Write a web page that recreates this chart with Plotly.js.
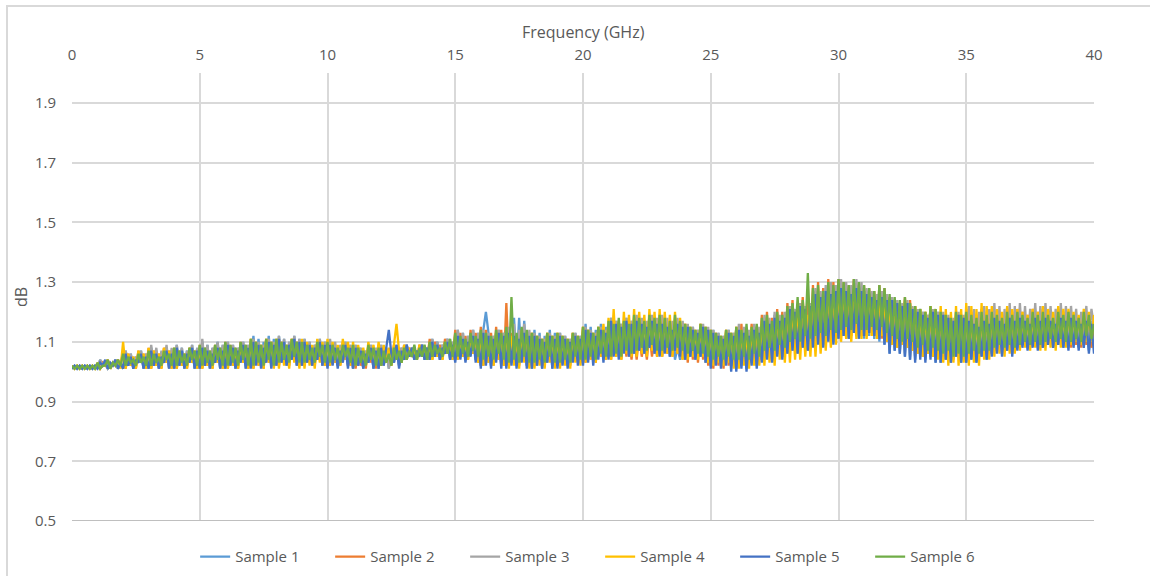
<!DOCTYPE html>
<html>
<head>
<meta charset="utf-8">
<script src="https://cdn.plot.ly/plotly-3.0.1.min.js"></script>
<style>
  html, body { margin: 0; padding: 0; background: #ffffff; }
  #wrap { position: relative; width: 1150px; height: 576px; }
  #chart { width: 1150px; height: 576px; }
  #frame { position: absolute; left: 6px; top: 5px; width: 1144px; height: 571px;
           border-left: 2px solid #d9d9d9; border-top: 2px solid #d9d9d9;
           pointer-events: none; box-sizing: border-box; }
</style>
</head>
<body>
<div id="wrap"><div id="chart"></div><div id="frame"></div></div>
<script>
// Frequency grid (GHz): start and step of the sampled points
const freqStart = 0;
const freqStep = 0.1;

const sampleNames = ["Sample 1", "Sample 2", "Sample 3", "Sample 4", "Sample 5", "Sample 6"];
const sampleColors = ["#5B9BD5", "#ED7D31", "#A5A5A5", "#FFC000", "#4472C4", "#70AD47"];

const xTitle = "Frequency (GHz)";
const yTitle = "dB";
const xTickVals = [0, 5, 10, 15, 20, 25, 30, 35, 40];
const yTickVals = [0.5, 0.7, 0.9, 1.1, 1.3, 1.5, 1.7, 1.9];

// dB values, 0 to 40 GHz every 0.1 GHz (one row = 2 GHz)
const sample1 = [
1.01,1.02,1.01,1.02,1.01,1.02,1.01,1.02,1.01,1.02, 1.01,1.04,1.02,1.03,1.01,1.02,1.02,1.04,1.01,1.03,
1.01,1.07,1.02,1.06,1.01,1.05,1.03,1.07,1.01,1.06, 1.01,1.08,1.02,1.07,1.01,1.06,1.03,1.08,1.01,1.07,
1.01,1.09,1.02,1.08,1.01,1.07,1.03,1.09,1.01,1.08, 1.01,1.10,1.02,1.09,1.01,1.08,1.03,1.10,1.01,1.09,
1.01,1.10,1.02,1.09,1.01,1.08,1.03,1.10,1.02,1.09, 1.02,1.12,1.03,1.11,1.02,1.10,1.04,1.12,1.02,1.11,
1.02,1.12,1.03,1.11,1.02,1.10,1.04,1.12,1.02,1.11, 1.02,1.11,1.03,1.10,1.02,1.09,1.04,1.11,1.02,1.10,
1.02,1.10,1.03,1.09,1.02,1.08,1.04,1.10,1.02,1.09, 1.01,1.09,1.02,1.08,1.01,1.07,1.03,1.09,1.01,1.08,
1.01,1.09,1.02,1.08,1.01,1.07,1.03,1.09,1.02,1.08, 1.04,1.09,1.05,1.08,1.04,1.07,1.06,1.09,1.04,1.08,
1.04,1.11,1.05,1.10,1.04,1.09,1.06,1.11,1.04,1.10, 1.04,1.14,1.05,1.13,1.04,1.12,1.06,1.14,1.04,1.13,
1.02,1.14,1.20,1.13,1.02,1.12,1.04,1.14,1.02,1.13, 1.02,1.14,1.03,1.18,1.02,1.18,1.04,1.17,1.02,1.13,
1.01,1.14,1.02,1.13,1.01,1.12,1.03,1.14,1.01,1.13, 1.02,1.13,1.03,1.12,1.02,1.11,1.04,1.13,1.03,1.12,
1.04,1.16,1.05,1.15,1.04,1.14,1.06,1.16,1.05,1.15, 1.06,1.18,1.07,1.17,1.06,1.16,1.08,1.18,1.06,1.17,
1.06,1.18,1.07,1.17,1.06,1.16,1.08,1.18,1.06,1.17, 1.06,1.17,1.07,1.16,1.05,1.15,1.04,1.08,1.04,1.07,
1.04,1.10,1.05,1.15,1.04,1.14,1.05,1.15,1.03,1.14, 1.02,1.14,1.03,1.13,1.02,1.12,1.03,1.14,1.02,1.13,
1.01,1.15,1.02,1.14,1.01,1.13,1.03,1.15,1.02,1.14, 1.04,1.18,1.05,1.17,1.04,1.19,1.06,1.18,1.05,1.19,
1.07,1.22,1.08,1.21,1.07,1.23,1.09,1.22,1.08,1.23, 1.09,1.27,1.10,1.26,1.09,1.28,1.11,1.29,1.10,1.28,
1.11,1.29,1.12,1.28,1.11,1.27,1.13,1.29,1.11,1.28, 1.11,1.27,1.12,1.26,1.11,1.25,1.10,1.26,1.09,1.25,
1.06,1.24,1.07,1.23,1.06,1.22,1.05,1.23,1.04,1.21, 1.04,1.21,1.05,1.20,1.04,1.19,1.05,1.21,1.03,1.20,
1.03,1.19,1.04,1.18,1.03,1.17,1.05,1.19,1.03,1.18, 1.03,1.19,1.04,1.18,1.03,1.17,1.05,1.19,1.04,1.18,
1.06,1.20,1.07,1.19,1.06,1.18,1.07,1.20,1.06,1.19, 1.08,1.19,1.09,1.18,1.08,1.17,1.09,1.19,1.08,1.18,
1.08,1.19,1.09,1.18,1.08,1.17,1.09,1.19,1.08,1.18, 1.08,1.19,1.09,1.18,1.08,1.17,1.09,1.18,1.07,1.17,
1.13];
const sample2 = [
1.02,1.01,1.02,1.01,1.02,1.01,1.02,1.01,1.02,1.01, 1.02,1.01,1.03,1.02,1.04,1.01,1.03,1.02,1.04,1.02,
1.07,1.01,1.06,1.02,1.05,1.01,1.07,1.03,1.06,1.01, 1.08,1.01,1.07,1.02,1.06,1.01,1.08,1.03,1.07,1.01,
1.08,1.01,1.07,1.02,1.06,1.01,1.08,1.03,1.07,1.01, 1.09,1.01,1.08,1.02,1.07,1.01,1.09,1.03,1.08,1.01,
1.10,1.01,1.09,1.02,1.08,1.01,1.10,1.03,1.09,1.01, 1.11,1.01,1.10,1.02,1.09,1.01,1.11,1.03,1.10,1.02,
1.11,1.02,1.10,1.03,1.09,1.02,1.11,1.04,1.10,1.02, 1.10,1.02,1.09,1.03,1.08,1.02,1.10,1.04,1.09,1.02,
1.10,1.02,1.09,1.03,1.08,1.02,1.10,1.04,1.09,1.02, 1.09,1.01,1.08,1.02,1.07,1.01,1.09,1.03,1.08,1.01,
1.09,1.02,1.08,1.03,1.07,1.02,1.09,1.04,1.08,1.03, 1.09,1.04,1.08,1.05,1.07,1.04,1.09,1.06,1.08,1.04,
1.11,1.04,1.10,1.05,1.09,1.04,1.11,1.06,1.10,1.04, 1.14,1.04,1.13,1.05,1.12,1.04,1.14,1.06,1.13,1.03,
1.15,1.02,1.14,1.03,1.13,1.02,1.15,1.04,1.14,1.02, 1.23,1.02,1.13,1.03,1.12,1.02,1.14,1.04,1.13,1.02,
1.13,1.02,1.12,1.03,1.11,1.02,1.13,1.04,1.12,1.02, 1.13,1.02,1.12,1.03,1.11,1.02,1.13,1.04,1.12,1.03,
1.15,1.03,1.14,1.04,1.13,1.03,1.15,1.05,1.14,1.04, 1.16,1.04,1.15,1.05,1.14,1.04,1.13,1.05,1.12,1.04,
1.13,1.04,1.12,1.05,1.11,1.04,1.13,1.05,1.12,1.05, 1.14,1.05,1.15,1.06,1.13,1.05,1.15,1.06,1.14,1.04,
1.16,1.03,1.15,1.04,1.14,1.03,1.16,1.04,1.15,1.02, 1.14,1.01,1.13,1.02,1.12,1.01,1.14,1.02,1.13,1.02,
1.15,1.02,1.16,1.03,1.14,1.03,1.16,1.04,1.15,1.04, 1.19,1.05,1.20,1.06,1.18,1.05,1.21,1.06,1.20,1.06,
1.23,1.07,1.24,1.08,1.22,1.08,1.25,1.09,1.24,1.09, 1.29,1.10,1.30,1.11,1.28,1.10,1.31,1.12,1.30,1.11,
1.31,1.12,1.30,1.13,1.29,1.12,1.31,1.14,1.30,1.12, 1.29,1.12,1.28,1.13,1.27,1.12,1.29,1.11,1.28,1.10,
1.25,1.09,1.24,1.08,1.23,1.09,1.25,1.08,1.24,1.07, 1.22,1.06,1.21,1.05,1.20,1.06,1.22,1.05,1.21,1.05,
1.20,1.04,1.19,1.05,1.18,1.04,1.20,1.05,1.19,1.04, 1.21,1.05,1.20,1.06,1.19,1.05,1.21,1.06,1.20,1.06,
1.21,1.07,1.20,1.08,1.19,1.07,1.21,1.08,1.20,1.07, 1.21,1.08,1.20,1.09,1.19,1.08,1.21,1.09,1.20,1.08,
1.21,1.09,1.20,1.10,1.19,1.09,1.21,1.10,1.20,1.09, 1.20,1.08,1.19,1.09,1.18,1.08,1.20,1.09,1.19,1.08,
1.16];
const sample3 = [
1.01,1.02,1.01,1.02,1.01,1.02,1.01,1.02,1.01,1.02, 1.01,1.04,1.02,1.03,1.01,1.02,1.02,1.04,1.01,1.03,
1.01,1.07,1.02,1.06,1.01,1.05,1.03,1.07,1.01,1.06, 1.01,1.09,1.02,1.08,1.01,1.07,1.03,1.09,1.01,1.08,
1.01,1.09,1.02,1.08,1.01,1.07,1.03,1.09,1.01,1.08, 1.01,1.11,1.02,1.09,1.01,1.08,1.03,1.10,1.01,1.09,
1.01,1.10,1.02,1.09,1.01,1.08,1.03,1.10,1.01,1.09, 1.02,1.11,1.03,1.10,1.02,1.09,1.04,1.11,1.02,1.10,
1.02,1.12,1.03,1.11,1.02,1.10,1.04,1.12,1.02,1.11, 1.02,1.11,1.03,1.10,1.02,1.09,1.04,1.11,1.02,1.10,
1.02,1.11,1.03,1.10,1.02,1.09,1.04,1.10,1.02,1.09, 1.01,1.09,1.02,1.08,1.01,1.07,1.03,1.09,1.01,1.08,
1.01,1.09,1.02,1.08,1.01,1.07,1.03,1.09,1.02,1.08, 1.04,1.09,1.05,1.08,1.04,1.07,1.06,1.09,1.04,1.08,
1.04,1.11,1.05,1.10,1.04,1.09,1.06,1.11,1.04,1.10, 1.04,1.14,1.05,1.13,1.04,1.12,1.06,1.14,1.04,1.13,
1.02,1.14,1.03,1.13,1.02,1.12,1.04,1.14,1.02,1.13, 1.02,1.15,1.03,1.16,1.02,1.14,1.04,1.16,1.02,1.14,
1.02,1.13,1.03,1.12,1.02,1.11,1.04,1.13,1.02,1.12, 1.02,1.13,1.03,1.12,1.02,1.11,1.04,1.13,1.03,1.12,
1.04,1.15,1.05,1.14,1.04,1.13,1.06,1.15,1.04,1.14, 1.05,1.18,1.06,1.17,1.05,1.16,1.07,1.18,1.05,1.17,
1.06,1.19,1.07,1.18,1.06,1.17,1.08,1.19,1.06,1.18, 1.06,1.19,1.07,1.18,1.06,1.17,1.07,1.18,1.05,1.17,
1.04,1.16,1.05,1.15,1.04,1.14,1.05,1.16,1.03,1.15, 1.02,1.14,1.03,1.13,1.02,1.12,1.03,1.14,1.02,1.13,
1.01,1.16,1.02,1.15,1.01,1.14,1.03,1.16,1.02,1.15, 1.04,1.19,1.05,1.18,1.04,1.20,1.06,1.19,1.05,1.20,
1.06,1.22,1.07,1.21,1.06,1.23,1.08,1.22,1.07,1.23, 1.09,1.28,1.10,1.27,1.09,1.29,1.11,1.30,1.10,1.29,
1.12,1.31,1.13,1.30,1.12,1.29,1.14,1.31,1.12,1.30, 1.12,1.28,1.13,1.27,1.12,1.26,1.11,1.27,1.10,1.26,
1.07,1.25,1.08,1.24,1.07,1.23,1.06,1.24,1.05,1.22, 1.05,1.21,1.06,1.20,1.05,1.19,1.06,1.21,1.04,1.20,
1.03,1.20,1.04,1.19,1.03,1.18,1.05,1.20,1.04,1.19, 1.04,1.22,1.05,1.21,1.04,1.20,1.06,1.22,1.05,1.21,
1.06,1.23,1.07,1.22,1.06,1.21,1.08,1.23,1.06,1.22, 1.08,1.23,1.09,1.22,1.08,1.21,1.09,1.23,1.08,1.22,
1.09,1.23,1.10,1.22,1.09,1.21,1.10,1.23,1.09,1.22, 1.10,1.22,1.11,1.21,1.10,1.20,1.11,1.22,1.10,1.21,
1.15];
const sample4 = [
1.02,1.01,1.02,1.01,1.02,1.01,1.02,1.01,1.02,1.01, 1.03,1.01,1.02,1.02,1.04,1.01,1.03,1.02,1.04,1.01,
1.10,1.01,1.06,1.02,1.05,1.01,1.07,1.03,1.06,1.01, 1.08,1.01,1.07,1.02,1.06,1.01,1.08,1.03,1.07,1.01,
1.08,1.01,1.07,1.02,1.06,1.01,1.08,1.03,1.07,1.01, 1.08,1.01,1.07,1.02,1.06,1.01,1.08,1.03,1.07,1.01,
1.09,1.01,1.08,1.02,1.07,1.01,1.09,1.03,1.08,1.01, 1.11,1.01,1.10,1.02,1.09,1.01,1.11,1.03,1.10,1.01,
1.11,1.01,1.10,1.02,1.09,1.01,1.11,1.03,1.10,1.01, 1.11,1.01,1.10,1.02,1.09,1.01,1.11,1.03,1.10,1.02,
1.11,1.02,1.10,1.03,1.09,1.02,1.11,1.04,1.10,1.02, 1.10,1.02,1.09,1.03,1.08,1.02,1.10,1.04,1.09,1.02,
1.10,1.02,1.09,1.03,1.08,1.02,1.09,1.16,1.07,1.03, 1.09,1.04,1.08,1.05,1.07,1.04,1.09,1.06,1.08,1.04,
1.10,1.04,1.09,1.05,1.08,1.04,1.10,1.06,1.09,1.04, 1.12,1.04,1.11,1.05,1.10,1.04,1.12,1.06,1.11,1.03,
1.13,1.02,1.12,1.03,1.11,1.02,1.13,1.04,1.12,1.02, 1.13,1.01,1.12,1.02,1.11,1.01,1.13,1.03,1.12,1.01,
1.13,1.01,1.12,1.02,1.11,1.01,1.13,1.03,1.12,1.01, 1.13,1.01,1.12,1.02,1.11,1.01,1.13,1.03,1.12,1.02,
1.15,1.03,1.14,1.04,1.13,1.03,1.15,1.05,1.16,1.04, 1.18,1.04,1.21,1.05,1.17,1.04,1.20,1.06,1.19,1.05,
1.21,1.05,1.20,1.06,1.19,1.05,1.21,1.07,1.20,1.05, 1.21,1.05,1.20,1.06,1.19,1.05,1.20,1.06,1.18,1.04,
1.16,1.04,1.15,1.05,1.14,1.04,1.16,1.05,1.15,1.03, 1.14,1.02,1.13,1.03,1.12,1.02,1.14,1.03,1.13,1.01,
1.15,1.01,1.14,1.02,1.13,1.01,1.15,1.02,1.14,1.02, 1.17,1.02,1.18,1.03,1.16,1.02,1.18,1.04,1.17,1.03,
1.19,1.03,1.20,1.04,1.18,1.04,1.20,1.05,1.19,1.05, 1.21,1.05,1.22,1.06,1.20,1.07,1.22,1.08,1.21,1.09,
1.24,1.10,1.23,1.11,1.22,1.10,1.24,1.11,1.23,1.11, 1.25,1.11,1.24,1.12,1.23,1.11,1.25,1.12,1.24,1.10,
1.24,1.09,1.23,1.08,1.22,1.09,1.24,1.08,1.23,1.07, 1.22,1.06,1.21,1.05,1.20,1.06,1.22,1.05,1.21,1.04,
1.22,1.03,1.21,1.02,1.20,1.03,1.22,1.02,1.21,1.03, 1.23,1.02,1.22,1.03,1.21,1.02,1.23,1.04,1.22,1.04,
1.22,1.05,1.21,1.06,1.20,1.05,1.22,1.06,1.21,1.06, 1.21,1.07,1.20,1.08,1.19,1.07,1.21,1.08,1.20,1.07,
1.22,1.07,1.21,1.08,1.20,1.07,1.22,1.08,1.21,1.08, 1.21,1.09,1.20,1.10,1.19,1.09,1.21,1.10,1.20,1.10,
1.19];
const sample5 = [
1.01,1.02,1.01,1.02,1.01,1.02,1.01,1.02,1.01,1.02, 1.01,1.03,1.02,1.04,1.01,1.03,1.02,1.04,1.01,1.03,
1.01,1.06,1.02,1.05,1.01,1.04,1.03,1.06,1.01,1.05, 1.01,1.07,1.02,1.06,1.01,1.05,1.03,1.07,1.01,1.06,
1.01,1.08,1.02,1.07,1.01,1.06,1.03,1.08,1.01,1.07, 1.01,1.08,1.02,1.07,1.01,1.06,1.03,1.08,1.01,1.07,
1.01,1.09,1.02,1.08,1.01,1.07,1.03,1.09,1.01,1.08, 1.01,1.10,1.02,1.09,1.01,1.08,1.03,1.10,1.01,1.09,
1.02,1.11,1.03,1.10,1.02,1.09,1.04,1.11,1.02,1.10, 1.02,1.10,1.03,1.09,1.02,1.08,1.04,1.10,1.02,1.09,
1.01,1.09,1.02,1.08,1.01,1.07,1.03,1.09,1.01,1.08, 1.01,1.08,1.02,1.07,1.01,1.06,1.03,1.08,1.01,1.07,
1.01,1.08,1.02,1.09,1.14,1.06,1.03,1.09,1.01,1.07, 1.04,1.09,1.05,1.08,1.04,1.07,1.05,1.09,1.04,1.08,
1.04,1.10,1.05,1.09,1.04,1.08,1.06,1.10,1.04,1.09, 1.03,1.12,1.04,1.11,1.03,1.10,1.05,1.12,1.03,1.11,
1.01,1.13,1.02,1.12,1.01,1.11,1.03,1.13,1.01,1.12, 1.01,1.13,1.02,1.12,1.01,1.11,1.03,1.13,1.01,1.12,
1.01,1.12,1.02,1.11,1.01,1.10,1.03,1.12,1.01,1.11, 1.01,1.12,1.02,1.11,1.01,1.10,1.03,1.12,1.02,1.11,
1.02,1.14,1.03,1.13,1.02,1.12,1.04,1.14,1.03,1.13, 1.04,1.17,1.05,1.16,1.04,1.15,1.06,1.17,1.05,1.16,
1.06,1.17,1.07,1.16,1.06,1.15,1.08,1.17,1.06,1.16, 1.05,1.16,1.06,1.15,1.05,1.14,1.07,1.16,1.05,1.15,
1.04,1.15,1.05,1.14,1.04,1.13,1.05,1.15,1.03,1.14, 1.01,1.13,1.02,1.12,1.01,1.11,1.02,1.13,1.00,1.12,
1.00,1.14,1.01,1.13,1.00,1.12,1.02,1.14,1.01,1.13, 1.03,1.17,1.04,1.16,1.03,1.18,1.05,1.17,1.04,1.18,
1.06,1.21,1.07,1.20,1.06,1.22,1.08,1.21,1.07,1.22, 1.08,1.26,1.09,1.25,1.08,1.27,1.10,1.26,1.09,1.27,
1.11,1.28,1.12,1.27,1.11,1.26,1.13,1.28,1.11,1.27, 1.12,1.26,1.13,1.25,1.12,1.24,1.11,1.25,1.09,1.24,
1.06,1.24,1.07,1.23,1.06,1.22,1.05,1.23,1.04,1.21, 1.03,1.20,1.04,1.19,1.03,1.18,1.04,1.20,1.03,1.19,
1.03,1.19,1.04,1.18,1.03,1.17,1.05,1.19,1.03,1.18, 1.03,1.17,1.04,1.16,1.03,1.15,1.05,1.17,1.04,1.16,
1.05,1.18,1.06,1.17,1.05,1.16,1.07,1.18,1.05,1.17, 1.07,1.18,1.08,1.17,1.07,1.16,1.08,1.18,1.07,1.17,
1.08,1.18,1.09,1.17,1.08,1.16,1.09,1.18,1.08,1.17, 1.07,1.18,1.08,1.17,1.07,1.16,1.08,1.17,1.06,1.16,
1.06];
const sample6 = [
1.02,1.01,1.02,1.01,1.02,1.01,1.02,1.01,1.02,1.01, 1.03,1.01,1.02,1.02,1.04,1.01,1.03,1.02,1.04,1.02,
1.06,1.02,1.05,1.03,1.04,1.02,1.06,1.03,1.05,1.02, 1.07,1.02,1.06,1.03,1.05,1.02,1.07,1.04,1.06,1.02,
1.08,1.02,1.07,1.03,1.06,1.02,1.08,1.04,1.07,1.02, 1.09,1.02,1.08,1.03,1.07,1.02,1.09,1.04,1.08,1.02,
1.10,1.02,1.09,1.03,1.08,1.02,1.10,1.04,1.09,1.02, 1.11,1.02,1.10,1.03,1.09,1.02,1.11,1.04,1.10,1.02,
1.11,1.03,1.10,1.04,1.09,1.03,1.11,1.05,1.10,1.03, 1.10,1.03,1.09,1.04,1.08,1.03,1.10,1.05,1.09,1.03,
1.10,1.03,1.09,1.04,1.08,1.03,1.09,1.05,1.08,1.03, 1.09,1.02,1.08,1.03,1.07,1.02,1.09,1.04,1.08,1.02,
1.08,1.02,1.07,1.03,1.06,1.02,1.08,1.04,1.07,1.03, 1.08,1.04,1.07,1.05,1.09,1.04,1.08,1.05,1.09,1.04,
1.10,1.05,1.09,1.06,1.08,1.05,1.10,1.06,1.11,1.05, 1.13,1.05,1.12,1.06,1.11,1.05,1.13,1.07,1.12,1.05,
1.14,1.04,1.13,1.05,1.12,1.04,1.14,1.06,1.13,1.04, 1.15,1.03,1.25,1.04,1.13,1.03,1.15,1.05,1.14,1.03,
1.13,1.03,1.12,1.04,1.11,1.03,1.13,1.05,1.12,1.03, 1.13,1.03,1.12,1.04,1.11,1.03,1.13,1.05,1.12,1.04,
1.15,1.04,1.14,1.05,1.13,1.04,1.15,1.06,1.14,1.05, 1.17,1.05,1.16,1.06,1.18,1.05,1.17,1.07,1.16,1.06,
1.19,1.07,1.18,1.08,1.17,1.07,1.19,1.09,1.18,1.07, 1.19,1.07,1.18,1.08,1.17,1.07,1.19,1.08,1.17,1.07,
1.16,1.06,1.15,1.07,1.14,1.06,1.16,1.06,1.15,1.05, 1.14,1.04,1.13,1.05,1.12,1.04,1.14,1.05,1.13,1.04,
1.15,1.04,1.14,1.05,1.16,1.04,1.15,1.06,1.16,1.05, 1.18,1.07,1.19,1.08,1.17,1.07,1.20,1.09,1.19,1.08,
1.22,1.10,1.23,1.11,1.25,1.10,1.24,1.12,1.33,1.11, 1.28,1.12,1.29,1.13,1.27,1.12,1.30,1.14,1.29,1.13,
1.31,1.14,1.30,1.15,1.29,1.14,1.31,1.16,1.30,1.14, 1.29,1.14,1.28,1.15,1.27,1.14,1.29,1.15,1.28,1.13,
1.26,1.12,1.25,1.11,1.24,1.10,1.25,1.11,1.23,1.10, 1.22,1.08,1.21,1.09,1.20,1.07,1.22,1.08,1.21,1.07,
1.20,1.06,1.19,1.07,1.18,1.05,1.20,1.06,1.19,1.05, 1.20,1.06,1.19,1.07,1.18,1.06,1.20,1.07,1.19,1.07,
1.20,1.08,1.19,1.09,1.18,1.08,1.20,1.09,1.19,1.08, 1.20,1.09,1.19,1.10,1.18,1.09,1.20,1.10,1.19,1.09,
1.20,1.10,1.19,1.11,1.18,1.10,1.20,1.11,1.19,1.10, 1.20,1.10,1.19,1.11,1.18,1.10,1.20,1.12,1.19,1.11,
1.16];

const allSamples = [sample1, sample2, sample3, sample4, sample5, sample6];

const textColor = "#595959";
const gridColor = "#d9d9d9";
const fontFamily = "'Open Sans', 'Noto Sans', sans-serif";

const traces = allSamples.map((vals, i) => ({
  type: "scatter",
  mode: "lines",
  name: sampleNames[i],
  x: vals.map((_, j) => +(freqStart + j * freqStep).toFixed(2)),
  y: vals,
  line: { color: sampleColors[i], width: 2.3 },
  hoverinfo: "skip"
}));

const layout = {
  width: 1150,
  height: 576,
  paper_bgcolor: "#ffffff",
  plot_bgcolor: "#ffffff",
  margin: { l: 72, r: 56, t: 73, b: 55, autoexpand: false },
  font: { family: fontFamily, size: 15, color: textColor },
  showlegend: true,
  xaxis: {
    side: "top",
    range: [0, 40],
    tickvals: xTickVals,
    ticktext: xTickVals.map(String),
    showgrid: true,
    gridcolor: gridColor,
    gridwidth: 2,
    zeroline: false,
    showline: false,
    ticks: "",
    ticklabelstandoff: 9,
    tickfont: { size: 15, color: textColor }
  },
  yaxis: {
    range: [0.5, 2.0],
    tickvals: yTickVals,
    ticktext: yTickVals.map(v => v.toFixed(1)),
    showgrid: true,
    gridcolor: gridColor,
    gridwidth: 2,
    zeroline: false,
    showline: false,
    ticks: "",
    ticklabelstandoff: 15,
    tickfont: { size: 15, color: textColor },
    title: { text: yTitle, font: { size: 16, color: textColor }, standoff: 3 }
  },
  annotations: [
    { text: xTitle, xref: "paper", yref: "paper", x: 0.5, y: 1, xanchor: "center",
      yanchor: "middle", yshift: 41, showarrow: false,
      font: { size: 16, color: textColor } }
  ],
  shapes: [
    { type: "line", xref: "paper", yref: "y", x0: 0, x1: 1, y0: 0.5, y1: 0.5,
      line: { color: "#bfbfbf", width: 2 } }
  ],
  legend: {
    orientation: "h",
    x: 0.1205,
    xanchor: "left",
    y: -0.08,
    yanchor: "middle",
    entrywidth: 90,
    entrywidthmode: "pixels",
    font: { size: 15, color: textColor },
    bgcolor: "rgba(0,0,0,0)"
  }
};

Plotly.newPlot("chart", traces, layout, { displayModeBar: false, staticPlot: true });
</script>
</body>
</html>
